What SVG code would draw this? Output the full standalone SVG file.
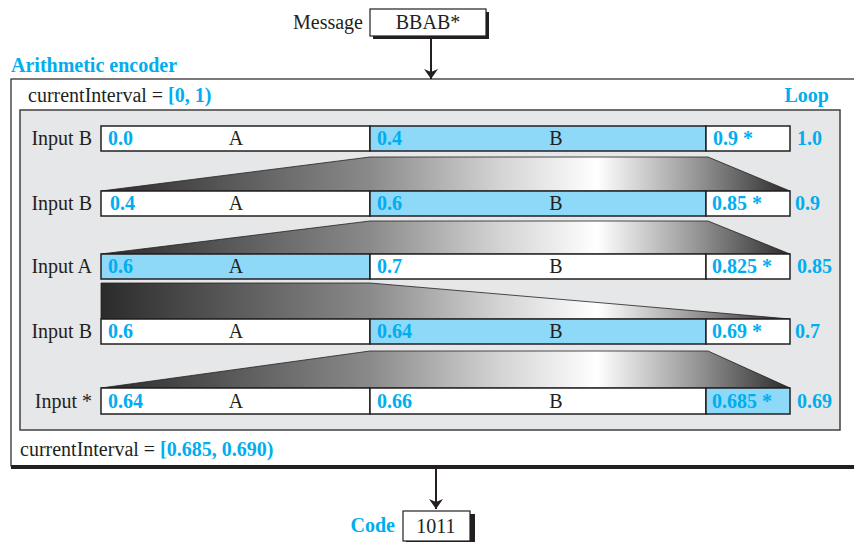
<svg xmlns="http://www.w3.org/2000/svg" width="854" height="542" viewBox="0 0 854 542">
<style>
text{font-family:"Liberation Serif","Times New Roman",serif;font-size:20px;fill:#231f20}
.v{fill:#00aeef;font-weight:bold}
.c{text-anchor:middle}
.r{text-anchor:end}
.bar{stroke:#231f20;stroke-width:1.5}
.w{fill:#fff}
.b{fill:#8ed8f8}
.trap{fill:url(#g);stroke:#231f20;stroke-width:0.8}
.ln{stroke:#231f20;stroke-width:2;fill:none}
</style>
<defs>
<linearGradient id="g" gradientUnits="userSpaceOnUse" x1="101" y1="0" x2="790" y2="0">
<stop offset="0" stop-color="#2b2b2b"/>
<stop offset="0.39" stop-color="#8a8a8a"/>
<stop offset="0.58" stop-color="#d4d4d4"/>
<stop offset="0.72" stop-color="#ffffff"/>
<stop offset="0.86" stop-color="#999"/>
<stop offset="1" stop-color="#2b2b2b"/>
</linearGradient>
<marker id="ah" viewBox="0 0 10 14" refX="10" refY="7" markerWidth="10" markerHeight="14" markerUnits="userSpaceOnUse" orient="auto">
<path d="M0,0 L10,7 L0,14 L3,7 Z" fill="#231f20"/>
</marker>
</defs>

<g id="message">
<text x="363" y="29" class="r">Message</text>
<rect x="373" y="12" width="116" height="27" fill="#231f20"/>
<rect x="370" y="9" width="116" height="27" fill="#fff" stroke="#231f20" stroke-width="1.2"/>
<text x="428" y="29" class="c">BBAB*</text>
</g>

<g id="encoder">
<text x="11" y="72" class="v">Arithmetic encoder</text>
<rect x="11" y="79" width="850" height="387" fill="#fff" stroke="#231f20" stroke-width="1.2"/>
<rect x="11" y="465" width="850" height="4" fill="#231f20"/>
<text x="28" y="102">currentInterval = <tspan class="v">[0, 1)</tspan></text>
<text x="829" y="102" class="v r">Loop</text>
<text x="20" y="456">currentInterval = <tspan class="v">[0.685, 0.690)</tspan></text>
</g>

<g id="loop">
<rect x="20" y="110" width="820" height="320" fill="#e6e7e8" stroke="#414042" stroke-width="1.5"/>
<polygon class="trap" points="370,157 708,157 790,191 101,191"/>
<polygon class="trap" points="370,221 708,221 790,254 101,254"/>
<polygon class="trap" points="101,283 370,283 790,319 101,319"/>
<polygon class="trap" points="370,351 708,351 790,388 101,388"/>
</g>

<g id="row1">
<text x="92" y="145" class="r">Input B</text>
<rect class="bar w" x="101" y="126" width="269" height="25"/>
<rect class="bar b" x="370" y="126" width="336" height="25"/>
<rect class="bar w" x="706" y="126" width="84" height="25"/>
<text x="108" y="145" class="v">0.0</text>
<text x="236" y="145" class="c">A</text>
<text x="377" y="145" class="v">0.4</text>
<text x="556" y="145" class="c">B</text>
<text x="713" y="145" class="v">0.9 *</text>
<text x="797" y="145" class="v">1.0</text>
</g>

<g id="row2">
<text x="92" y="210" class="r">Input B</text>
<rect class="bar w" x="101" y="191" width="269" height="25"/>
<rect class="bar b" x="370" y="191" width="336" height="25"/>
<rect class="bar w" x="706" y="191" width="84" height="25"/>
<text x="110" y="210" class="v">0.4</text>
<text x="236" y="210" class="c">A</text>
<text x="377" y="210" class="v">0.6</text>
<text x="556" y="210" class="c">B</text>
<text x="712" y="210" class="v">0.85 *</text>
<text x="795" y="210" class="v">0.9</text>
</g>

<g id="row3">
<text x="92" y="273" class="r">Input A</text>
<rect class="bar b" x="101" y="254" width="269" height="25"/>
<rect class="bar w" x="370" y="254" width="336" height="25"/>
<rect class="bar w" x="706" y="254" width="84" height="25"/>
<text x="108" y="273" class="v">0.6</text>
<text x="236" y="273" class="c">A</text>
<text x="377" y="273" class="v">0.7</text>
<text x="556" y="273" class="c">B</text>
<text x="712" y="273" class="v">0.825 *</text>
<text x="797" y="273" class="v">0.85</text>
</g>

<g id="row4">
<text x="92" y="338" class="r">Input B</text>
<rect class="bar w" x="101" y="319" width="269" height="25"/>
<rect class="bar b" x="370" y="319" width="336" height="25"/>
<rect class="bar w" x="706" y="319" width="84" height="25"/>
<text x="108" y="338" class="v">0.6</text>
<text x="236" y="338" class="c">A</text>
<text x="377" y="338" class="v">0.64</text>
<text x="556" y="338" class="c">B</text>
<text x="712" y="338" class="v">0.69 *</text>
<text x="795" y="338" class="v">0.7</text>
</g>

<g id="row5">
<text x="92" y="408" class="r">Input *</text>
<rect class="bar w" x="101" y="388" width="269" height="26"/>
<rect class="bar w" x="370" y="388" width="336" height="26"/>
<rect class="bar b" x="706" y="388" width="84" height="26"/>
<text x="108" y="408" class="v">0.64</text>
<text x="236" y="408" class="c">A</text>
<text x="377" y="408" class="v">0.66</text>
<text x="556" y="408" class="c">B</text>
<text x="712" y="408" class="v">0.685 *</text>
<text x="797" y="408" class="v">0.69</text>
</g>

<g id="code">
<text x="395" y="532" class="v r">Code</text>
<rect x="406" y="514" width="69" height="30" fill="#231f20"/>
<rect x="403" y="511" width="67" height="30" fill="#fff" stroke="#231f20" stroke-width="1.2"/>
<text x="436" y="533" class="c">1011</text>
</g>

<g id="connectors">
<line class="ln" x1="431" y1="37" x2="431" y2="79" marker-end="url(#ah)"/>
<line class="ln" x1="436" y1="469" x2="436" y2="509" marker-end="url(#ah)"/>
</g>
</svg>
